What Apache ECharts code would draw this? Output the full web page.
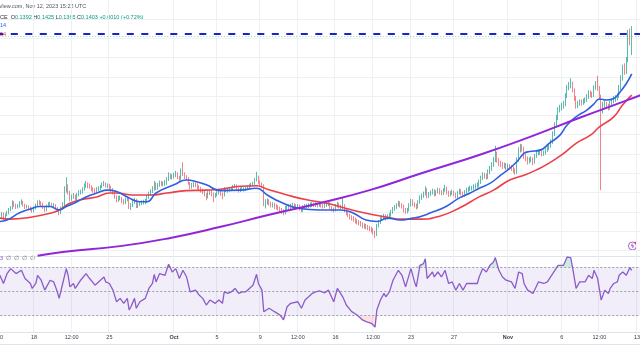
<!DOCTYPE html>
<html><head><meta charset="utf-8">
<script src="https://cdn.jsdelivr.net/npm/echarts@6/dist/echarts.min.js"></script>
<style>html,body{margin:0;padding:0;background:#fff}#c{width:640px;height:360px}</style>
</head><body><div id="c"></div><script>
// ---- time slots: 4h bars starting 2023-09-14 12:00 UTC ----
const slotStartUTC = Date.UTC(2023, 8, 14, 12);
const slotCount = 360;
const tickTimes = ['09-14 12:00','09-18 00:00','09-21 12:00','09-25 00:00','10-01 00:00','10-05 00:00','10-09 00:00','10-12 12:00','10-16 00:00','10-19 12:00','10-23 00:00','10-27 00:00','11-01 00:00','11-06 00:00','11-09 12:00','11-13 00:00'];
const tickLabels = ['12:00','18','12:00','25','Oct','5','9','12:00','16','12:00','23','27','Nov','6','12:00','13'];

// ---- candles (first candle = bar 2, 09-14 20:00) ----
const firstCandleBar = 2;
const firstOpen = 0.1029;
const closes = [
.1031,.1036,.1027,.1034,.1038,.1044,.1048,.1058,.1054,.1050,
.1052,.1058,.1060,.1054,.1050,.1052,.1048,.1046,.1042,.1048,
.1054,.1060,.1058,.1056,.1050,.1044,.1052,.1056,.1056,.1054,
.1054,.1048,.1044,.1038,.1048,.1056,.1085,.1094,.1081,.1067,
.1071,.1073,.1067,.1075,.1081,.1081,.1087,.1094,.1098,.1094,
.1092,.1087,.1085,.1083,.1087,.1089,.1092,.1096,.1098,.1094,
.1094,.1092,.1085,.1081,.1071,.1065,.1069,.1069,.1062,.1060,
.1067,.1067,.1050,.1054,.1060,.1065,.1052,.1056,.1058,.1060,
.1060,.1062,.1071,.1077,.1083,.1087,.1098,.1089,.1096,.1100,
.1098,.1098,.1100,.1108,.1116,.1112,.1112,.1116,.1119,.1112,
.1108,.1125,.1119,.1112,.1110,.1100,.1092,.1096,.1098,.1096,
.1092,.1089,.1085,.1083,.1077,.1073,.1079,.1081,.1077,.1075,
.1075,.1079,.1081,.1077,.1075,.1087,.1085,.1085,.1087,.1087,
.1092,.1094,.1087,.1085,.1087,.1087,.1087,.1087,.1092,.1094,
.1096,.1098,.1106,.1112,.1102,.1098,.1094,.1058,.1060,.1062,
.1058,.1054,.1056,.1052,.1050,.1048,.1044,.1042,.1038,.1048,
.1052,.1050,.1052,.1054,.1052,.1050,.1052,.1048,.1044,.1050,
.1052,.1052,.1054,.1054,.1056,.1054,.1056,.1054,.1056,.1054,
.1052,.1054,.1056,.1058,.1050,.1046,.1044,.1052,.1056,.1052,
.1050,.1052,.1044,.1038,.1034,.1029,.1027,.1025,.1021,.1019,
.1017,.1015,.1011,.1011,.1009,.1007,.1005,.1002,.0998,.0994,
.1011,.1019,.1025,.1029,.1031,.1027,.1031,.1034,.1040,.1046,
.1050,.1054,.1058,.1054,.1052,.1044,.1042,.1044,.1054,.1062,
.1056,.1054,.1050,.1060,.1069,.1073,.1077,.1085,.1073,.1077,
.1079,.1083,.1077,.1081,.1085,.1081,.1079,.1085,.1089,.1081,
.1077,.1079,.1081,.1077,.1073,.1079,.1083,.1079,.1075,.1081,
.1085,.1087,.1089,.1089,.1092,.1094,.1096,.1102,.1110,.1116,
.1114,.1112,.1123,.1129,.1137,.1148,.1158,.1148,.1141,.1139,
.1135,.1137,.1133,.1135,.1133,.1131,.1127,.1123,.1148,.1168,
.1174,.1172,.1156,.1152,.1145,.1148,.1150,.1143,.1156,.1162,
.1164,.1164,.1160,.1162,.1168,.1172,.1177,.1185,.1201,.1220,
.1235,.1251,.1255,.1259,.1264,.1280,.1297,.1301,.1305,.1293,
.1276,.1259,.1264,.1268,.1266,.1270,.1272,.1278,.1286,.1284,
.1282,.1297,.1305,.1297,.1278,.1251,.1262,.1264,.1259,.1257,
.1266,.1270,.1274,.1276,.1280,.1297,.1317,.1338,.1330,.1355,
.1400,.1392,.1403];
const highs = [
.1036,.1040,.1039,.1037,.1042,.1048,.1052,.1064,.1062,.1057,
.1056,.1062,.1066,.1063,.1057,.1055,.1054,.1051,.1049,.1051,
.1057,.1064,.1065,.1062,.1059,.1052,.1055,.1060,.1061,.1059,
.1058,.1056,.1050,.1046,.1051,.1060,.1093,.1112,.1097,.1084,
.1076,.1079,.1076,.1079,.1085,.1086,.1091,.1099,.1104,.1101,
.1099,.1095,.1091,.1089,.1091,.1093,.1096,.1101,.1104,.1101,
.1099,.1098,.1094,.1089,.1083,.1074,.1073,.1074,.1071,.1066,
.1070,.1072,.1069,.1058,.1064,.1069,.1067,.1060,.1062,.1064,
.1065,.1067,.1075,.1082,.1087,.1093,.1104,.1101,.1100,.1105,
.1104,.1103,.1106,.1112,.1122,.1120,.1118,.1121,.1125,.1122,
.1115,.1130,.1143,.1122,.1116,.1112,.1102,.1100,.1102,.1101,
.1099,.1095,.1092,.1088,.1085,.1079,.1083,.1085,.1084,.1080,
.1079,.1083,.1086,.1084,.1080,.1091,.1090,.1089,.1091,.1092,
.1096,.1098,.1097,.1090,.1091,.1092,.1091,.1092,.1095,.1098,
.1100,.1102,.1110,.1123,.1115,.1105,.1101,.1097,.1066,.1068,
.1066,.1061,.1060,.1059,.1056,.1054,.1051,.1048,.1045,.1052,
.1056,.1056,.1057,.1059,.1058,.1056,.1056,.1055,.1050,.1054,
.1056,.1057,.1058,.1059,.1060,.1059,.1060,.1059,.1060,.1059,
.1057,.1058,.1060,.1063,.1060,.1052,.1049,.1056,.1061,.1059,
.1055,.1071,.1056,.1047,.1041,.1036,.1033,.1031,.1028,.1025,
.1023,.1021,.1018,.1016,.1015,.1013,.1011,.1009,.1006,.1001,
.1015,.1023,.1029,.1033,.1036,.1035,.1035,.1038,.1044,.1050,
.1054,.1058,.1063,.1062,.1058,.1055,.1048,.1048,.1058,.1067,
.1066,.1060,.1057,.1064,.1074,.1078,.1082,.1093,.1089,.1081,
.1084,.1088,.1087,.1085,.1090,.1089,.1085,.1089,.1096,.1092,
.1084,.1083,.1086,.1084,.1080,.1083,.1088,.1087,.1082,.1085,
.1090,.1092,.1094,.1094,.1097,.1099,.1101,.1107,.1115,.1122,
.1121,.1119,.1128,.1135,.1143,.1154,.1177,.1165,.1152,.1146,
.1143,.1142,.1141,.1140,.1139,.1137,.1134,.1130,.1153,.1174,
.1181,.1180,.1175,.1160,.1155,.1153,.1155,.1153,.1160,.1167,
.1169,.1170,.1168,.1167,.1172,.1177,.1182,.1190,.1207,.1226,
.1241,.1257,.1262,.1266,.1270,.1286,.1303,.1309,.1317,.1310,
.1296,.1280,.1270,.1273,.1273,.1275,.1277,.1284,.1292,.1291,
.1289,.1302,.1311,.1322,.1301,.1283,.1268,.1270,.1268,.1264,
.1270,.1275,.1280,.1282,.1286,.1303,.1323,.1345,.1348,.1361,
.1417,.1420,.1425];
const lows = [
.1025,.1028,.1023,.1024,.1031,.1035,.1041,.1045,.1050,.1046,
.1047,.1049,.1055,.1051,.1046,.1047,.1044,.1042,.1038,.1039,
.1045,.1051,.1054,.1052,.1046,.1040,.1041,.1049,.1051,.1050,
.1049,.1045,.1040,.1033,.1035,.1045,.1052,.1080,.1076,.1062,
.1063,.1067,.1063,.1064,.1072,.1076,.1078,.1084,.1090,.1089,
.1088,.1083,.1080,.1078,.1080,.1083,.1085,.1089,.1093,.1090,
.1089,.1087,.1081,.1076,.1067,.1060,.1061,.1064,.1058,.1055,
.1056,.1062,.1046,.1044,.1050,.1056,.1048,.1048,.1052,.1054,
.1055,.1056,.1058,.1067,.1073,.1079,.1084,.1085,.1086,.1092,
.1094,.1093,.1094,.1096,.1104,.1108,.1107,.1109,.1112,.1108,
.1103,.1105,.1114,.1108,.1105,.1096,.1087,.1088,.1091,.1091,
.1087,.1084,.1080,.1077,.1072,.1064,.1068,.1075,.1072,.1060,
.1069,.1072,.1076,.1073,.1066,.1072,.1081,.1080,.1082,.1083,
.1085,.1089,.1083,.1080,.1081,.1083,.1082,.1083,.1085,.1089,
.1091,.1093,.1096,.1103,.1098,.1093,.1089,.1052,.1047,.1055,
.1053,.1049,.1049,.1046,.1045,.1043,.1038,.1036,.1033,.1035,
.1044,.1045,.1046,.1048,.1047,.1045,.1046,.1043,.1039,.1040,
.1046,.1047,.1048,.1049,.1050,.1050,.1050,.1049,.1050,.1049,
.1047,.1048,.1050,.1052,.1046,.1041,.1039,.1041,.1049,.1047,
.1045,.1046,.1039,.1033,.1029,.1024,.1022,.1020,.1016,.1014,
.1012,.1010,.1006,.1005,.1004,.1002,.1000,.0997,.0993,.0986,
.0990,.1008,.1015,.1021,.1025,.1022,.1024,.1027,.1030,.1036,
.1042,.1046,.1051,.1049,.1047,.1039,.1036,.1037,.1041,.1051,
.1052,.1049,.1045,.1047,.1057,.1065,.1069,.1074,.1068,.1069,
.1073,.1076,.1072,.1073,.1078,.1076,.1074,.1075,.1082,.1076,
.1071,.1072,.1075,.1072,.1068,.1069,.1076,.1074,.1070,.1071,
.1078,.1081,.1083,.1084,.1085,.1088,.1090,.1092,.1098,.1106,
.1109,.1107,.1108,.1118,.1125,.1133,.1143,.1142,.1135,.1133,
.1129,.1130,.1127,.1128,.1127,.1125,.1121,.1117,.1119,.1144,
.1163,.1165,.1150,.1145,.1138,.1140,.1143,.1137,.1140,.1152,
.1157,.1158,.1155,.1156,.1159,.1164,.1168,.1173,.1181,.1197,
.1215,.1230,.1246,.1250,.1254,.1259,.1276,.1292,.1296,.1288,
.1270,.1254,.1255,.1260,.1260,.1262,.1265,.1268,.1274,.1278,
.1276,.1278,.1293,.1291,.1272,.1085,.1244,.1255,.1253,.1250,
.1252,.1261,.1265,.1268,.1271,.1276,.1293,.1312,.1324,.1326,
.1350,.1385,.1365];

// ---- indicator lines: [bar number, value] ----
const emaFastPoints = [[2,.1020],[6,.1023],[13,.1038],[19,.1046],[24,.1051],[30,.1051],[35,.1044],[39,.1051],[45,.1061],[50,.1071],
[56,.1079],[62,.1085],[67,.1082],[73,.1071],[80,.1061],[84,.1061],[89,.1079],[99,.1096],[106,.1106],[112,.1102],
[117,.1096],[125,.1084],[136,.1085],[145,.1089],[151,.1075],[158,.1061],[169,.1047],[180,.1044],[192,.1044],[199,.1037],
[206,.1023],[212,.1020],[218,.1027],[225,.1023],[232,.1027],[236,.1030],[242,.1038],[250,.1050],[258,.1069],[264,.1079],
[269,.1089],[275,.1099],[281,.1116],[286,.1130],[290,.1144],[294,.1161],[297,.1165],[303,.1168],[308,.1182],[314,.1199],
[318,.1220],[323,.1237],[329,.1251],[333,.1264],[336,.1274],[340,.1272],[344,.1275],[347,.1286],[351,.1306],[354,.1326]];
const emaSlowPoints = [[2,.1027],[8,.1025],[19,.1029],[30,.1037],[35,.1044],[41,.1058],[47,.1065],[56,.1071],[63,.1079],[67,.1079],
[76,.1075],[86,.1075],[95,.1079],[106,.1084],[117,.1085],[125,.1087],[136,.1093],[145,.1094],[151,.1087],[162,.1075],
[173,.1065],[184,.1058],[195,.1047],[206,.1037],[218,.1029],[225,.1025],[236,.1025],[247,.1031],[258,.1048],[269,.1071],
[277,.1085],[286,.1106],[294,.1116],[301,.1127],[308,.1141],[316,.1161],[323,.1182],[331,.1199],[336,.1216],[344,.1237],
[349,.1262],[354,.1282]];
const trendPoints = [[23,.0949],[37,.0957],[69,.0969],[97,.0986],[125,.1009],[152,.1034],[180,.1058],[208,.1085],[236,.1119],[269,.1158],[297,.1195],[325,.1235],[352,.1272],[359,.1282]];
const resistanceLevel = 0.1409;
const lastClose = 0.1403;
const rsiPoints = [[2,63.4],[4,56.6],[6,64.8],[8,68.9],[9,70.3],[11,64.8],[12,63.4],[14,67.5],[16,60.7],[19,56.6],[20,52.5],[22,56.6],[23,63.4],[25,59.3],[27,51.1],[30,59.3],[32,57.9],[34,49.7],[35,44.3],[37,56.6],
[39,68.9],[40,63.4],[41,53.8],[43,56.6],[44,52.5],[47,59.3],[50,64.8],[52,60.7],[55,55.2],[58,59.3],[60,62.0],[61,57.9],[63,56.6],[65,51.1],[67,41.5],[69,44.3],[71,40.2],[73,44.3],[74,34.7],[75,37.4],
[77,44.3],[78,36.1],[80,41.5],[83,44.3],[85,52.5],[87,56.6],[88,64.2],[89,57.9],[91,64.8],[94,63.4],[96,72.5],[98,66.1],[100,68.9],[102,60.7],[104,67.5],[106,62.0],[108,49.7],[111,51.1],[113,47.0],[115,44.3],
[117,38.8],[119,42.9],[122,40.2],[124,42.9],[126,40.2],[127,49.7],[129,48.4],[131,49.7],[133,52.5],[135,48.4],[137,49.7],[139,49.7],[141,52.5],[143,55.2],[145,64.2],[146,56.6],[148,51.1],[149,33.3],[152,36.1],[155,33.3],
[158,30.6],[160,26.5],[162,37.4],[164,40.2],[165,41.5],[168,41.5],[170,36.1],[172,42.9],[174,45.6],[176,48.4],[178,49.7],[180,50.5],[183,48.9],[185,51.1],[188,41.5],[190,52.5],[193,45.6],[195,38.8],[198,33.3],[201,30.6],
[204,26.5],[206,25.1],[209,23.7],[211,20.5],[212,34.7],[214,42.9],[216,48.4],[217,45.6],[219,49.7],[221,59.3],[224,67.5],[226,63.4],[228,53.8],[229,55.2],[231,68.9],[233,57.9],[234,53.8],[236,71.6],[238,73.0],[239,77.1],
[240,60.7],[243,66.1],[244,62.0],[246,66.1],[248,62.0],[250,67.5],[252,56.6],[254,57.9],[256,51.1],[258,56.6],[260,51.1],[262,56.6],[265,56.6],[268,56.6],[269,62.0],[271,68.9],[273,66.1],[275,71.6],[277,74.4],[278,78.0],
[280,67.5],[282,62.0],[284,59.3],[287,57.9],[289,52.5],[291,66.1],[293,64.8],[294,56.6],[296,51.1],[299,48.4],[302,57.9],[305,56.6],[307,57.9],[310,64.8],[313,71.6],[316,71.6],[318,78.5],[320,78.0],[321,70.2],[323,52.5],
[325,57.9],[328,57.9],[330,63.4],[332,60.7],[333,67.5],[335,60.7],[337,42.9],[339,51.1],[341,48.4],[342,52.5],[344,56.6],[346,57.9],[347,63.4],[349,66.1],[351,63.4],[353,69.8],[354,67.5]];
const rsiLevels = [70, 50, 30];

// ---- build ----
const pad = n => String(n).padStart(2, '0');
const categories = [];
for (let k = 0; k < slotCount; k++) {
  const d = new Date(slotStartUTC + k * 4 * 3600e3);
  categories.push(pad(d.getUTCMonth() + 1) + '-' + pad(d.getUTCDate()) + ' ' + pad(d.getUTCHours()) + ':00');
}
const labelMap = {};
tickTimes.forEach((t, k) => labelMap[t] = tickLabels[k]);
const candleData = categories.map((_, k) => {
  const j = k - firstCandleBar;
  if (j < 0 || j >= closes.length) return '-';
  const o = j === 0 ? firstOpen : closes[j - 1];
  return [o, closes[j], lows[j], highs[j]];
});
const isTick = (idx, val) => labelMap[val] !== undefined;
const firstCat = categories[0], lastCat = categories[slotCount - 1];
// RSI beyond the bands, for the overbought / oversold fills
const rsiAbove = rsiPoints.map(([b, v]) => [b, Math.max(v, rsiLevels[0])]);
const rsiBelow = rsiPoints.map(([b, v]) => [b, Math.min(v, rsiLevels[2])]);

const FONT = 'Liberation Sans, Arial, sans-serif';
const gridLine = '#eef0f4';
const chart = echarts.init(document.getElementById('c'), null, {renderer: 'canvas'});
chart.setOption({
  animation: false,
  backgroundColor: '#ffffff',
  grid: [
    {left: -4.6, right: -1.6, top: -0.43, height: 270.2, outerBoundsMode: 'none', containLabel: false},
    {left: -4.6, right: -1.6, top: 257, height: 75, outerBoundsMode: 'none', containLabel: false}
  ],
  xAxis: [
    {type: 'category', gridIndex: 0, data: categories, boundaryGap: true,
     axisLine: {show: false}, axisTick: {show: false}, axisLabel: {show: false},
     splitLine: {show: true, interval: isTick, lineStyle: {color: gridLine, width: 1}}},
    {type: 'category', gridIndex: 1, data: categories, boundaryGap: true,
     axisLine: {show: false}, axisTick: {show: false},
     axisLabel: {show: true, interval: isTick, margin: 2.5, fontSize: 5.5, fontFamily: FONT, color: '#3a3e48', hideOverlap: false,
       formatter: v => { const s = labelMap[v] || ''; return (s === 'Oct' || s === 'Nov') ? '{b|' + s + '}' : s; },
       rich: {b: {fontSize: 5.5, fontWeight: 'bold', fontFamily: FONT, color: '#3a3e48'}}},
     splitLine: {show: true, interval: isTick, lineStyle: {color: gridLine, width: 1}}}
  ],
  yAxis: [
    {type: 'value', gridIndex: 0, min: 0.092, max: 0.148, interval: 0.004,
     axisLine: {show: false}, axisTick: {show: false}, axisLabel: {show: false},
     splitLine: {show: true, showMinLine: false, showMaxLine: false, lineStyle: {color: gridLine, width: 1}}},
    {type: 'value', gridIndex: 1, min: 16.5, max: 78.5,
     axisLine: {show: false}, axisTick: {show: false}, axisLabel: {show: false}, splitLine: {show: false}}
  ],
  series: [
    {type: 'candlestick', xAxisIndex: 0, yAxisIndex: 0, data: candleData, barWidth: 0.9,
     itemStyle: {color: '#2eab98', color0: '#f0626c', borderColor: '#2eab98', borderColor0: '#f0626c', borderWidth: 0.8},
     markLine: {symbol: 'none', silent: true, label: {show: false},
       data: [
         [{xAxis: firstCat, yAxis: resistanceLevel, lineStyle: {color: '#1a22c8', width: 2, type: [7, 7.5]}}, {xAxis: lastCat, yAxis: resistanceLevel}],
         [{xAxis: firstCat, yAxis: lastClose, lineStyle: {color: 'rgba(8,153,129,0.45)', width: 1, type: [1, 2]}}, {xAxis: lastCat, yAxis: lastClose}]
       ]}},
    {type: 'line', xAxisIndex: 0, yAxisIndex: 0, data: emaSlowPoints, smooth: 0.5, showSymbol: false,
     lineStyle: {color: '#ec3f48', width: 1.6}},
    {type: 'line', xAxisIndex: 0, yAxisIndex: 0, data: emaFastPoints, smooth: 0.5, showSymbol: false,
     lineStyle: {color: '#2f5fe3', width: 1.6}},
    {type: 'line', xAxisIndex: 0, yAxisIndex: 0, data: trendPoints, smooth: 0.5, showSymbol: false,
     lineStyle: {color: '#9126d9', width: 2}},
    {type: 'line', xAxisIndex: 1, yAxisIndex: 1, data: rsiAbove, showSymbol: false, z: 3, silent: true,
     lineStyle: {width: 0, opacity: 0}, areaStyle: {origin: rsiLevels[0], color: 'rgba(8,153,129,0.28)'}},
    {type: 'line', xAxisIndex: 1, yAxisIndex: 1, data: rsiBelow, showSymbol: false, z: 3, silent: true,
     lineStyle: {width: 0, opacity: 0}, areaStyle: {origin: rsiLevels[2], color: 'rgba(242,54,69,0.22)'}},
    {type: 'line', xAxisIndex: 1, yAxisIndex: 1, data: rsiPoints, showSymbol: false, z: 5,
     lineStyle: {color: '#8a5cc9', width: 1.3},
     markArea: {silent: true, itemStyle: {color: 'rgba(126,87,194,0.1)'},
       data: [[{xAxis: firstCat, yAxis: rsiLevels[2]}, {xAxis: lastCat, yAxis: rsiLevels[0]}]]},
     markLine: {symbol: 'none', silent: true, label: {show: false},
       lineStyle: {color: '#9a9ca6', width: 1, type: [2, 2]},
       data: rsiLevels.map(v => [{xAxis: firstCat, yAxis: v}, {xAxis: lastCat, yAxis: v}])}}
  ],
  graphic: [
    {type: 'rect', shape: {x: 0, y: 256, width: 640, height: 1}, style: {fill: '#e0e3eb'}, silent: true},
    {type: 'rect', shape: {x: 0, y: 332, width: 640, height: 1}, style: {fill: '#e0e3eb'}, silent: true},
    {type: 'rect', shape: {x: 0, y: 344, width: 640, height: 1}, style: {fill: '#e0e3eb'}, silent: true},
    {type: 'text', left: -1, top: 3, style: {text: 'View.com, Nov 12, 2023 15:22 UTC', fill: '#50535e', font: '5.5px ' + FONT}},
    {type: 'text', left: 0, top: 14.5, style: {
      text: 'CE  {k|O}{v|0.1392} {k|H}{v|0.1425} {k|L}{v|0.1365} {k|C}{v|0.1403} {v|+0.0010 (+0.72%)}',
      fill: '#2a2e39', font: '5.5px ' + FONT,
      rich: {k: {fill: '#2a2e39', font: '5.5px ' + FONT}, v: {fill: '#089981', font: '5.5px ' + FONT}}}},
    {type: 'text', left: 0, top: 22.5, style: {text: '14', fill: '#2962ff', font: '5.5px ' + FONT}},
    {type: 'text', left: 0, top: 31, style: {text: '54', fill: '#f23645', font: '5.5px ' + FONT}},
    {type: 'text', left: 0, top: 255.5, style: {
      text: '{p|3}  ∅  ∅  ∅  ∅', fill: '#6a6d78', font: '5.5px ' + FONT,
      rich: {p: {fill: '#7e57c2', font: '5.5px ' + FONT}}}},
    {type: 'circle', shape: {cx: 632.5, cy: 246, r: 4}, style: {fill: '#fff', stroke: '#9c4fd0', lineWidth: 0.9}, silent: true},
    {type: 'text', x: 632.5, y: 246, style: {text: 'ϟ', fill: '#9c4fd0', font: 'bold 6px DejaVu Sans', align: 'center', verticalAlign: 'middle'}},
    {type: 'circle', shape: {cx: 635.3, cy: 242.8, r: 1.1}, style: {fill: '#f23645'}, silent: true}
  ]
});
</script></body></html>
